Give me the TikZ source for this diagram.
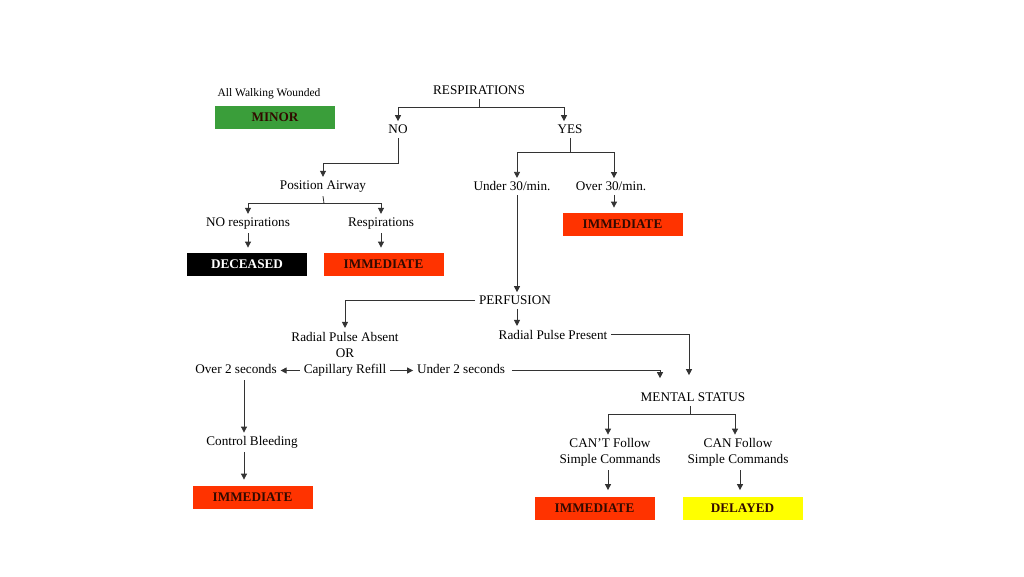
\documentclass[tikz,border=0pt]{standalone}
\usepackage{fontspec}
\setmainfont{Liberation Serif}
\usetikzlibrary{arrows.meta}
\definecolor{minorgreen}{RGB}{58,158,58}
\definecolor{immred}{RGB}{255,51,0}
\definecolor{delayyellow}{RGB}{255,255,0}
\definecolor{tagtext}{RGB}{50,10,0}
\begin{document}
\begin{tikzpicture}[
x=1pt, y=-1pt,
line width=0.8pt, draw=black!80,
every node/.style={font=\fontsize{13.2}{16}\selectfont, inner sep=3.5pt, align=center, yshift=-1.5pt},
tag/.style={minimum width=120pt, minimum height=23pt, inner sep=0pt, yshift=1.5pt, font=\fontsize{13.2}{16}\selectfont\bfseries, text=tagtext},
minor/.style={tag, fill=minorgreen},
immediate/.style={tag, fill=immred},
deceased/.style={tag, fill=black, text=white},
delayed/.style={tag, fill=delayyellow},
refillrow/.style={text height=9pt, text depth=3pt},
arr/.style={-{Triangle[width=6pt,length=6pt]}}
]
\useasboundingbox (0,0) rectangle (1024,576);

\node (walking) at (269,92) [font=\fontsize{11.5}{13}\selectfont] {All Walking Wounded};
\node[minor] (minor) at (275,117) {MINOR};

\node (resp) at (479,89) {RESPIRATIONS};
\node (no) at (398,128) {NO};
\node (yes) at (570,128) {YES};
\node (airway) at (323,185) {Position Airway};
\node (norespi) at (248,222) {NO respirations};
\node (respi) at (381,222) {Respirations};
\node[deceased] (dead) at (247,264.5) {DECEASED};
\node[immediate] (imm1) at (383.5,264.5) {IMMEDIATE};
\node (under30) at (512,185) {Under 30/min.};
\node (over30) at (611,185) {Over 30/min.};
\node[immediate] (imm2) at (622.5,224.5) {IMMEDIATE};

\node (perf) at (515,299) {PERFUSION};
\node (present) at (553,333) {Radial Pulse Present};
\node (absent) at (345,335) {Radial Pulse Absent};
\node (or) at (345,352) {OR};
\node[refillrow] (refill) at (345,369) {Capillary Refill};
\node[refillrow] (over2) at (236,369) {Over 2 seconds};
\node[refillrow] (under2) at (461,369) {Under 2 seconds};
\node (bleed) at (252,441) {Control Bleeding};
\node[immediate] (imm4) at (252.5,497.5) {IMMEDIATE};

\node (mental) at (693,396) {MENTAL STATUS};
\node (cant) at (610,451) {CAN'T Follow\\Simple Commands};
\node (can) at (738,451) {CAN Follow\\Simple Commands};
\node[immediate] (imm3) at (594.5,508) {IMMEDIATE};
\node[delayed] (late) at (742.5,508) {DELAYED};

% bends of the branches
\coordinate (respbar) at (479,106);
\coordinate (nobend) at (398,162);
\coordinate (airbar) at (324,202);
\coordinate (yesbar) at (570,151);
\coordinate (mentalbar) at (690,413);

% respirations
\draw (resp.south) -- (respbar);
\draw[arr] (respbar) -| (no.north);
\draw[arr] (respbar) -| ([xshift=-6pt]yes.north);
\draw[arr] (no.south) -- (nobend) -| (airway.north);
\draw (airway.south) -- (airbar);
\draw[arr] (airbar) -| (norespi.north);
\draw[arr] (airbar) -| (respi.north);
\draw[arr, shorten >=5pt] (norespi.south) -- (norespi.south |- dead.north);
\draw[arr, shorten >=5pt] (respi.south) -- (respi.south |- imm1.north);
\draw (yes.south) -- (yesbar);
\draw[arr] (yesbar) -| ([xshift=5pt]under30.north);
\draw[arr] (yesbar) -| ([xshift=3pt]over30.north);
\draw[arr, shorten >=5pt] ([xshift=3pt]over30.south) -- ([xshift=3pt]over30.south |- imm2.north);

% perfusion
\draw[arr] ([xshift=5pt]under30.south) -- ([xshift=5pt]under30.south |- perf.north);
\draw[arr] (perf.west) -| (absent.north);
\draw[arr] ([xshift=2pt]perf.south) -- ([xshift=2pt]perf.south |- present.north);
\draw[arr] (refill.west) -- (over2.east);
\draw[arr] (refill.east) -- (under2.west);
\draw[arr] ([xshift=8pt]over2.south) -- ([xshift=8pt]over2.south |- bleed.north);
\draw[arr, shorten >=6pt] ([xshift=-8pt]bleed.south) -- ([xshift=-8pt]bleed.south |- imm4.north);

% mental status
\draw[arr, shorten >=14pt] (present.east) -| ([xshift=-4pt]mental.north);
\draw[arr, shorten >=11pt] ([xshift=3pt]under2.east) -| ([xshift=-33pt]mental.north);
\draw ([xshift=-3pt]mental.south) -- (mentalbar);
\draw[arr] (mentalbar) -| ([xshift=-2pt]cant.north);
\draw[arr] (mentalbar) -| ([xshift=-3pt]can.north);
\draw[arr, shorten >=6pt] ([xshift=-2pt]cant.south) -- ([xshift=-2pt]cant.south |- imm3.north);
\draw[arr, shorten >=6pt] ([xshift=2pt]can.south) -- ([xshift=2pt]can.south |- late.north);
\end{tikzpicture}
\end{document}
